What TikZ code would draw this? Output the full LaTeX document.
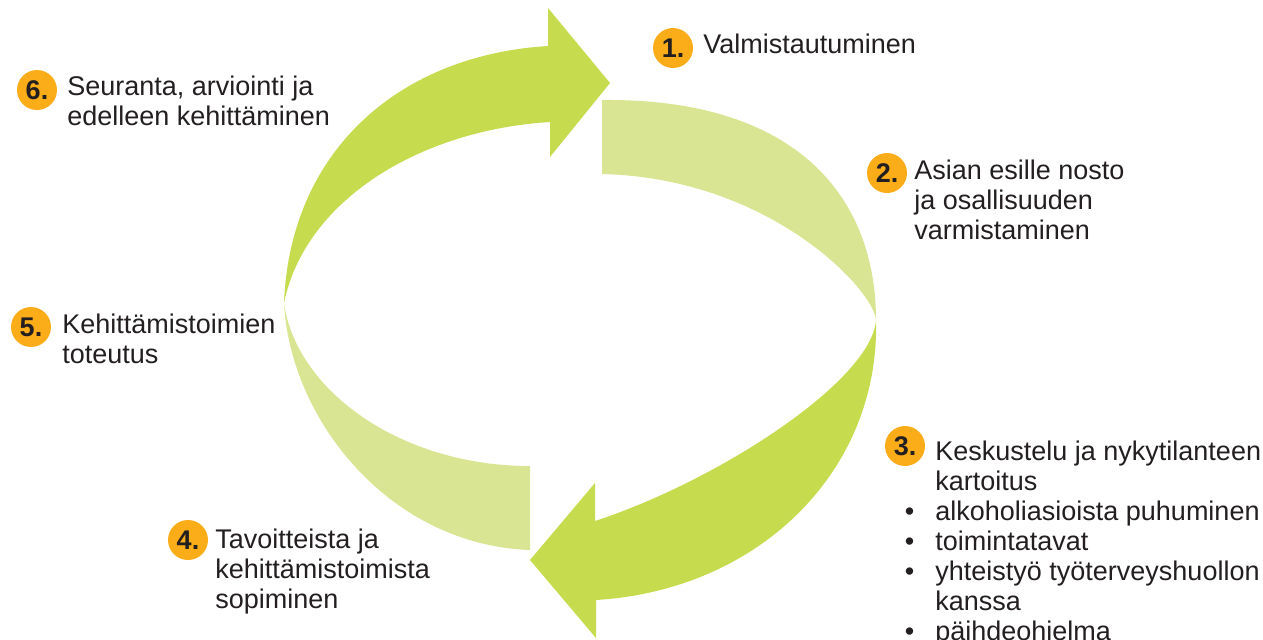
\documentclass[tikz,border=0pt]{standalone}
\usepackage{fontspec}
\setmainfont{Liberation Sans}
\definecolor{leafdark}{RGB}{199,219,79}
\definecolor{leaflight}{RGB}{217,229,146}
\definecolor{badgeorange}{RGB}{250,172,25}
\definecolor{inkdark}{RGB}{35,31,32}
\tikzset{
	badge/.style={circle,fill=badgeorange,inner sep=0pt,minimum size=20pt,
		text=inkdark,font=\fontsize{13.5}{15}\bfseries\selectfont},
	phasetext/.style={anchor=base west,align=left,inner sep=0pt,
		text=inkdark,font=\fontsize{13.5}{15}\selectfont}
}
\begin{document}
\begin{tikzpicture}[x=0.5pt,y=-0.5pt]
		\useasboundingbox (0,0) rectangle (1263,639);
		\coordinate (L) at (284,303);
		\coordinate (R) at (876,320);
		\fill[leafdark] (L) .. controls (290,150) and (400,55) .. (548,46)
			-- (548,8) -- (610,83) -- (550,157) -- (550,122)
			.. controls (420,130) and (305,200) .. (L);
		\fill[leaflight] (602,100) .. controls (800,98) and (876,200) .. (R)
			.. controls (874,290) and (770,178) .. (602,174) -- cycle;
		\fill[leafdark] (R) .. controls (880,470) and (760,590) .. (596,600)
			-- (596,638) -- (530,560) -- (595,483) -- (595,521)
			.. controls (720,480) and (872,380) .. (R);
		\fill[leaflight] (L) .. controls (290,420) and (390,545) .. (530,550)
			-- (530,466) .. controls (400,466) and (296,390) .. (L);
		\foreach \n/\x/\y in {1/673/48,2/887/173,3/905/446,
			4/188/540,5/31/327,6/37/90}
		\node[badge] (b\n) at (\x,\y) {\n.};
		\node[phasetext] (t1) at (703,53) {Valmistautuminen};
		\node[phasetext] (t2) at (914,239)
			{Asian esille nosto\\ja osallisuuden\\varmistaminen};
		\node[phasetext] (t3) at (935,640)
			{Keskustelu ja nykytilanteen\\kartoitus\\
			\llap{\textbullet\hspace{10.5pt}}alkoholiasioista puhuminen\\
			\llap{\textbullet\hspace{10.5pt}}toimintatavat\\
			\llap{\textbullet\hspace{10.5pt}}yhteistyö työterveyshuollon\\
			kanssa\\
			\llap{\textbullet\hspace{10.5pt}}päihdeohjelma};
		\node[phasetext] (t4) at (215,608)
			{Tavoitteista ja\\kehittämistoimista\\sopiminen};
		\node[phasetext] (t5) at (62,363) {Kehittämistoimien\\toteutus};
		\node[phasetext] (t6) at (67,125)
			{Seuranta, arviointi ja\\edelleen kehittäminen};
\end{tikzpicture}
\end{document}
